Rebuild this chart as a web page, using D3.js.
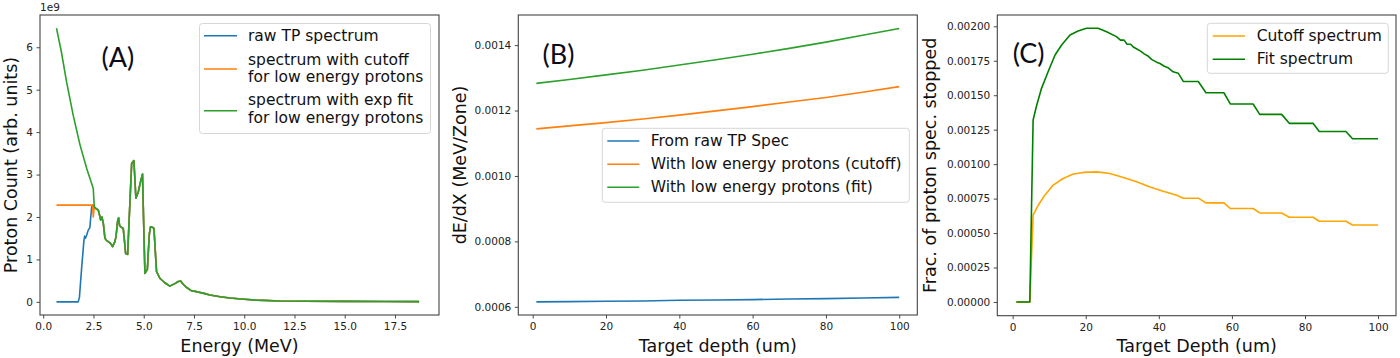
<!DOCTYPE html>
<html><head><meta charset="utf-8">
<script src="https://cdn.jsdelivr.net/npm/d3@7"></script>
<style>
html,body{margin:0;padding:0;background:#fff;}
svg{display:block;font-family:"DejaVu Sans",sans-serif;}
</style></head>
<body><svg id="c" width="1400" height="358"></svg>
<script>
// ---------- Panel A data (Proton count, units of 1e9) ----------
const aFitE = [0.66,0.9,1.16,1.49,1.83,2.16,2.49,2.54,2.62,2.74,2.80,2.86,2.92,2.99,3.07,3.15,3.23,3.35,3.45,3.55,3.62,3.70,3.75,3.80,3.85,3.98,4.05,4.10,4.20,4.30,4.40,4.51,4.56,4.61,4.73,4.85,4.94,5.00,5.06,5.18,5.28,5.34,5.46,5.51,5.60,5.64,5.81,6.05,6.30,6.55,6.72,6.84,6.95,7.10,7.38,7.63,8.00,8.29,8.80,9.29,10.0,10.62,11.78,13.0,15.0,17.0,18.7];
const aFitY = [6.45,5.90,5.19,4.40,3.70,3.15,2.67,2.24,2.20,2.16,2.05,1.93,2.00,1.85,1.50,1.45,1.42,1.38,1.30,1.40,1.53,1.90,1.98,1.80,1.77,1.73,1.40,1.14,1.12,2.20,3.26,3.33,2.90,2.44,2.59,2.85,3.01,1.80,0.67,0.76,1.60,1.77,1.75,1.73,1.00,0.71,0.55,0.45,0.37,0.43,0.48,0.49,0.42,0.35,0.26,0.24,0.20,0.16,0.12,0.09,0.06,0.04,0.02,0.015,0.01,0.008,0.005];
const aRawLowE = [0.66,1.74,1.80,1.91,2.02,2.06,2.10,2.16,2.24,2.32,2.41,2.46];
const aRawLowY = [0,0,0.10,0.79,1.42,1.55,1.50,1.57,1.69,1.75,2.24,2.28];
const aCutLowE = [0.66,2.46,2.49];
const aCutLowY = [2.28,2.28,2.00];
const aXTicks = [0,2.5,5,7.5,10,12.5,15,17.5];
const aYTicks = [0,1,2,3,4,5,6];
const aLegend = [["raw TP spectrum"],["spectrum with cutoff","for low energy protons"],["spectrum with exp fit","for low energy protons"]];

// ---------- Panel B data (dE/dX) ----------
const bDepth = [1,10,20,30,40,50,60,70,80,90,100];
const bRaw = [0.000615,0.000616,0.000617,0.000618,0.000620,0.000621,0.000622,0.000624,0.000625,0.000627,0.000629];
const bCutoff = [0.001144,0.001153,0.001163,0.001174,0.001186,0.001199,0.001212,0.001226,0.001240,0.001256,0.001273];
const bFit = [0.001283,0.001295,0.001309,0.001323,0.001339,0.001355,0.001372,0.001390,0.001409,0.001430,0.001451];
const bXTicks = [0,20,40,60,80,100];
const bYTicks = [0.0006,0.0008,0.0010,0.0012,0.0014];
const bLegend = ["From raw TP Spec","With low energy protons (cutoff)","With low energy protons (fit)"];

// ---------- Panel C data (fraction stopped) ----------
const cCutX = [1,4.7,5.6,7,8.8,11.1,13.8,16.6,19.3,23,26.6,30.3,33.9,37.6,41.2,44.9,46.7,50.8,52.9,57.8,59.6,65.8,67.6,73.6,75.7,82.2,83.9,91.2,93,100];
const cCutY = [0,0,0.00063,0.000702,0.000775,0.000848,0.000896,0.000928,0.00094,0.000944,0.000932,0.000903,0.000872,0.000835,0.000804,0.000775,0.000753,0.000753,0.000719,0.000719,0.000678,0.000678,0.000646,0.000646,0.000615,0.000615,0.000586,0.000586,0.000559,0.000559];
const cFitX = [1,4.7,5.6,6.6,7.9,9.7,11.6,13.4,15.7,17.9,20.2,23.4,25.7,28.4,29.5,30.5,31.3,32.3,33,34,35,36,37,38,39.4,40.3,41.5,42.5,43.9,45.3,46.7,50.8,52.9,57.8,59.6,65.8,67.6,73.6,75.7,82.2,83.9,91.2,93,100];
const cFitY = [0,0,0.00132,0.001429,0.00155,0.00167,0.001792,0.001864,0.001937,0.001966,0.001986,0.001986,0.00196,0.001925,0.0019,0.0019,0.00187,0.00187,0.00185,0.001835,0.00182,0.0018,0.001785,0.00176,0.00174,0.00173,0.00171,0.0017,0.00167,0.00166,0.0016,0.0016,0.001518,0.001518,0.001436,0.001436,0.001361,0.001361,0.001296,0.001296,0.001237,0.001237,0.001184,0.001184];
const cXTicks = [0,20,40,60,80,100];
const cYTicks = [0,0.00025,0.0005,0.00075,0.001,0.00125,0.0015,0.00175,0.002];
const cLegend = ["Cutoff spectrum","Fit spectrum"];

const svg = d3.select("#c");
const TICK_FS = 10.5, LAB_FS = 17.5, LEG_FS = 15.5;

function panel(o){
  const g = svg.append("g");
  const x = d3.scaleLinear().domain(o.xd).range([o.l,o.r]);
  const y = d3.scaleLinear().domain(o.yd).range([o.b,o.t]);
  // axes
  const xa = g.append("g").attr("transform",`translate(0,${o.b})`)
    .call(d3.axisBottom(x).tickValues(o.xt).tickFormat(o.xf).tickSizeOuter(0).tickSize(3.5).tickPadding(4));
  const ya = g.append("g").attr("transform",`translate(${o.l},0)`)
    .call(d3.axisLeft(y).tickValues(o.yt).tickFormat(o.yf).tickSizeOuter(0).tickSize(3.5).tickPadding(3.5));
  [xa,ya].forEach(a=>{
    a.select(".domain").remove();
    a.selectAll("line").attr("stroke","#333").attr("stroke-width",0.9);
    a.selectAll("text").attr("font-family","DejaVu Sans").attr("font-size",TICK_FS).attr("fill","#222");
  });
  // lines
  const line = d3.line().x(d=>x(d[0])).y(d=>y(d[1]));
  o.series.forEach(s=>{
    g.append("path").datum(d3.zip(s.x,s.y)).attr("d",line)
      .attr("fill","none").attr("stroke",s.c).attr("stroke-width",1.6).attr("stroke-linejoin","round");
  });
  // frame
  g.append("rect").attr("x",o.l).attr("y",o.t).attr("width",o.r-o.l).attr("height",o.b-o.t)
    .attr("fill","none").attr("stroke","#444").attr("stroke-width",1.1);
  // axis labels
  g.append("text").attr("x",(o.l+o.r)/2).attr("y",352).attr("text-anchor","middle")
    .attr("font-size",LAB_FS).attr("fill","#111").text(o.xl);
  g.append("text").attr("transform",`translate(${o.ylx},${(o.t+o.b)/2}) rotate(-90)`)
    .attr("text-anchor","middle").attr("font-size",LAB_FS).attr("fill","#111").text(o.yl);
  // panel tag
  g.append("text").attr("x",o.tag[1]).attr("y",o.tag[2]).attr("dominant-baseline","central")
    .attr("font-family","Lato, 'Open Sans', sans-serif").attr("font-size",27).attr("fill","#0b0b18").text(o.tag[0]);
  // legend
  const L = o.leg;
  const lg = g.append("g");
  lg.append("rect").attr("x",L.x).attr("y",L.y).attr("width",L.w).attr("height",L.h).attr("rx",3)
    .attr("fill","#fff").attr("fill-opacity",0.85).attr("stroke","#d6d6d6").attr("stroke-width",1);
  L.items.forEach(it=>{
    lg.append("line").attr("x1",L.hx1).attr("x2",L.hx2).attr("y1",it.hy).attr("y2",it.hy)
      .attr("stroke",it.c).attr("stroke-width",1.6);
    it.lines.forEach((t,i)=>{
      lg.append("text").attr("x",L.tx).attr("y",it.ty[i]).attr("dominant-baseline","central")
        .attr("font-size",LEG_FS).attr("fill","#111").text(t);
    });
  });
  return {g,x,y};
}

// Panel A
const tailStart = aFitE.indexOf(2.54);
const tailE = aFitE.slice(tailStart), tailY = aFitY.slice(tailStart);
const pA = panel({
  l:40,r:439,t:15,b:315, xd:[-0.16,19.69], yd:[-0.31,6.76],
  xt:aXTicks, yt:aYTicks, xf:d3.format(".1f"), yf:d3.format("d"),
  series:[
    {x:aRawLowE.concat(tailE), y:aRawLowY.concat(tailY), c:"#1f77b4"},
    {x:aCutLowE.concat(tailE), y:aCutLowY.concat(tailY), c:"#ff7f0e"},
    {x:aFitE, y:aFitY, c:"#2ca02c"}
  ],
  xl:"Energy (MeV)", yl:"Proton Count (arb. units)", ylx:17,
  tag:["(A)",101.5,56],
  leg:{x:199.5,y:23.5,w:231,h:110,hx1:204,hx2:237,tx:248,
    items:[
      {c:"#1f77b4",hy:35.7,lines:aLegend[0],ty:[36]},
      {c:"#ff7f0e",hy:69,lines:aLegend[1],ty:[59.5,77]},
      {c:"#2ca02c",hy:110.7,lines:aLegend[2],ty:[100,117.5]}
    ]}
});
pA.g.append("text").attr("x",40).attr("y",7).attr("dominant-baseline","central")
  .attr("font-size",TICK_FS).attr("fill","#222").text("1e9");

// Panel B
panel({
  l:518.3,r:917.3,t:15,b:315, xd:[-3.93,104.93], yd:[0.000575,0.001492],
  xt:bXTicks, yt:bYTicks, xf:d3.format("d"), yf:d3.format(".4f"),
  series:[
    {x:bDepth,y:bRaw,c:"#1f77b4"},
    {x:bDepth,y:bCutoff,c:"#ff7f0e"},
    {x:bDepth,y:bFit,c:"#2ca02c"}
  ],
  xl:"Target depth (um)", yl:"dE/dX (MeV/Zone)", ylx:466,
  tag:["(B)",542.5,53.5],
  leg:{x:602.3,y:128.3,w:307,h:74,hx1:607.3,hx2:639.3,tx:650.7,
    items:[
      {c:"#1f77b4",hy:141,lines:[bLegend[0]],ty:[141]},
      {c:"#ff7f0e",hy:164.3,lines:[bLegend[1]],ty:[164.3]},
      {c:"#2ca02c",hy:187.3,lines:[bLegend[2]],ty:[187.3]}
    ]}
});

// Panel C
panel({
  l:997.3,r:1396,t:15,b:315.7, xd:[-4.2,104.9], yd:[-0.0000995,0.002082],
  xt:cXTicks, yt:cYTicks, xf:d3.format("d"), yf:d3.format(".5f"),
  series:[
    {x:cCutX,y:cCutY,c:"#ffa500"},
    {x:cFitX,y:cFitY,c:"#008000"}
  ],
  xl:"Target Depth (um)", yl:"Frac. of proton spec. stopped", ylx:936,
  tag:["(C)",1012.7,52.5],
  leg:{x:1207.3,y:23.3,w:181,h:50,hx1:1212.7,hx2:1245,tx:1256.7,
    items:[
      {c:"#ffa500",hy:36,lines:[cLegend[0]],ty:[36]},
      {c:"#008000",hy:59.3,lines:[cLegend[1]],ty:[59.3]}
    ]}
});
</script></body></html>
